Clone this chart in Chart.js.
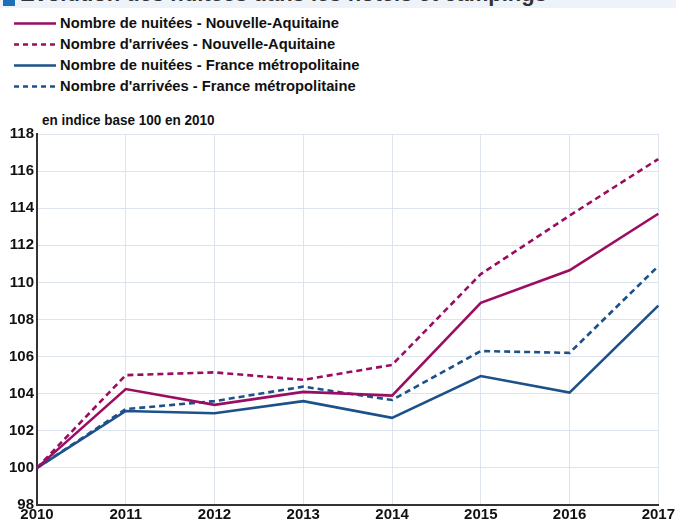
<!DOCTYPE html>
<html>
<head>
<meta charset="utf-8">
<script src="https://cdn.jsdelivr.net/npm/chart.js@4/dist/chart.umd.min.js"></script>
<style>
  html, body { margin:0; padding:0; background:#fff; }
  #wrap { position:relative; width:676px; height:525px; overflow:hidden; }
  #titlebar { position:absolute; left:0; top:0; width:676px; height:8px; background:#eef3fa; overflow:hidden; }
  #titlebar .num { position:absolute; left:3px; top:-10px; width:12px; height:16px; background:#1d6fb8; }
  #titlebar .txt { position:absolute; left:20px; top:-19px; font:bold 22px "Liberation Sans", Arial, sans-serif; color:#333; white-space:nowrap; }
  #legend { position:absolute; left:0; top:0; font:bold 15.5px "Liberation Sans", Arial, sans-serif; color:#111; }
  .row { position:absolute; left:12px; height:20px; white-space:nowrap; }
  .row svg { position:absolute; left:0; top:0; }
  .row span { position:absolute; left:48px; top:1px; line-height:18px; transform:scaleX(0.95); transform-origin:0 50%; }
  #ytitle { position:absolute; left:42px; top:111px; font:bold 15px "Liberation Sans", Arial, sans-serif; color:#111; white-space:nowrap; transform:scaleX(0.9); transform-origin:0 50%; }
  canvas { position:absolute; left:0; top:0; }
</style>
</head>
<body>
<div id="wrap">
  <div id="titlebar"><div class="num"></div><div class="txt">Évolution des nuitées dans les hôtels et campings</div></div>
  <div id="legend"></div>
  <div id="ytitle">en indice base 100 en 2010</div>
  <canvas id="c" width="676" height="525"></canvas>
</div>
<script>
const years = ['2010','2011','2012','2013','2014','2015','2016','2017'];
const nuiteesNA   = [100, 104.25, 103.4, 104.1, 103.9, 108.9, 110.65, 113.7];
const arriveesNA  = [100, 105.0, 105.15, 104.75, 105.55, 110.45, 113.6, 116.65];
const nuiteesFR   = [100, 103.07, 102.95, 103.6, 102.7, 104.95, 104.06, 108.75];
const arriveesFR  = [100, 103.17, 103.6, 104.38, 103.66, 106.3, 106.2, 110.88];
const seriesNames = [
  'Nombre de nuitées - Nouvelle-Aquitaine',
  "Nombre d'arrivées - Nouvelle-Aquitaine",
  'Nombre de nuitées - France métropolitaine',
  "Nombre d'arrivées - France métropolitaine"
];
const yTicks = [98,100,102,104,106,108,110,112,114,116,118];

const PURPLE = '#9b0d62';
const BLUE = '#1c5189';
const DASH = [6,4];

const styles = [
  {color:PURPLE, dash:[]},
  {color:PURPLE, dash:DASH},
  {color:BLUE, dash:[]},
  {color:BLUE, dash:DASH}
];
const values = [nuiteesNA, arriveesNA, nuiteesFR, arriveesFR];

// HTML legend
const legend = document.getElementById('legend');
const rowTops = [13, 34, 55, 76];
seriesNames.forEach((name, i) => {
  const r = document.createElement('div');
  r.className = 'row';
  r.style.top = rowTops[i] + 'px';
  const da = styles[i].dash.length ? 'stroke-dasharray="5,4"' : '';
  r.innerHTML = '<svg width="46" height="20"><line x1="2" y1="10.5" x2="44" y2="10.5" stroke="'+styles[i].color+'" stroke-width="2.5" '+da+'/></svg><span>'+name+'</span>';
  legend.appendChild(r);
});

const FONT = {family:'"Liberation Sans", Arial, sans-serif', size:15, weight:'bold'};

new Chart(document.getElementById('c'), {
  type:'line',
  data:{
    labels: years,
    datasets: values.map((v,i)=>({
      label: seriesNames[i],
      data: v,
      borderColor: styles[i].color,
      backgroundColor: styles[i].color,
      borderDash: styles[i].dash,
      borderWidth: 2.6,
      pointRadius: 0,
      tension: 0,
      fill: false
    }))
  },
  options:{
    responsive:false,
    animation:false,
    layout:{padding:{top:134, left:0, right:0, bottom:0}},
    plugins:{legend:{display:false}, tooltip:{enabled:false}, title:{display:false}},
    scales:{
      x:{
        offset:false,
        grid:{color:'#dde4ee', lineWidth:1, drawTicks:false},
        border:{color:'#333', width:2},
        ticks:{color:'#111', font:FONT, padding:1, maxRotation:0, autoSkip:false}
      },
      y:{
        min:98, max:118,
        afterBuildTicks: s => { s.ticks = yTicks.map(v=>({value:v})); },
        afterFit: s => { s.width = 37; },
        grid:{color:'#dde4ee', lineWidth:1, drawTicks:false},
        border:{color:'#333', width:2},
        ticks:{color:'#111', font:FONT, padding:3}
      }
    }
  }
});
</script>
</body>
</html>
